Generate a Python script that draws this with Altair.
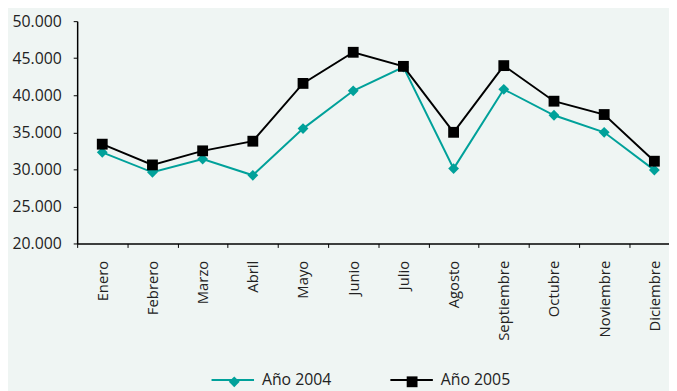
import altair as alt
import pandas as pd

meses = ["Enero", "Febrero", "Marzo", "Abril", "Mayo", "Junio", "Julio",
         "Agosto", "Septiembre", "Octubre", "Noviembre", "Diciembre"]
anio_2004 = [32300, 29600, 31400, 29200, 35500, 40600, 43800, 30100, 40800, 37300, 35000, 29900]
anio_2005 = [33400, 30600, 32500, 33800, 41600, 45800, 43900, 35000, 44000, 39200, 37400, 31100]
series = ["Año 2004", "Año 2005"]
y_ticks = [20000, 25000, 30000, 35000, 40000, 45000, 50000]

rows = []
for s, vals in zip(series, [anio_2004, anio_2005]):
    for m, v in zip(meses, vals):
        rows.append({"mes": m, "serie": s, "linea": s, "valor": v})
df = pd.DataFrame(rows)

TEAL = "#00A19A"
BLACK = "#000000"
FONT = "Open Sans"

x_enc = alt.X(
    "mes:N", sort=meses, bandPosition=0.5, title=None,
    scale=alt.Scale(type="band", range=[0, 609.6], paddingInner=0, paddingOuter=0),
    axis=alt.Axis(tickBand="extent", labelAngle=270, labelAlign="right",
                  labelBaseline="middle", labelPadding=13, tickSize=4,
                  domainColor="black", tickColor="black", labelColor="#222222",
                  labelFontSize=15, labelFont=FONT, domainWidth=1.5, grid=False),
)
y_enc = alt.Y(
    "valor:Q", title=None,
    scale=alt.Scale(domain=[20000, 50000], nice=False, zero=False),
    axis=alt.Axis(values=y_ticks, labelExpr="replace(format(datum.value, ','), ',', '.')",
                  tickSize=4, labelPadding=12, domainColor="black", tickColor="black",
                  labelColor="#222222", labelFontSize=16, labelFont=FONT,
                  domainWidth=1.5, grid=False),
)

LEG_X = 135
LEG_Y = 357

lines = alt.Chart(df).mark_line(strokeWidth=2).encode(
    x=x_enc, y=y_enc,
    color=alt.Color(
        "linea:N", scale=alt.Scale(domain=series, range=[TEAL, BLACK]),
        legend=alt.Legend(
            title=None, orient="none", legendX=LEG_X, legendY=LEG_Y - 16.5,
            direction="horizontal",
            symbolType="stroke", symbolSize=1849, symbolStrokeWidth=2,
            labelFontSize=16, labelFont=FONT, labelColor="#222222",
            labelOffset=7, columnPadding=55,
        ),
    ),
)
points = alt.Chart(df).mark_point(filled=True, opacity=1, size=120).encode(
    x=x_enc, y=y_enc,
    color=alt.Color(
        "serie:N", scale=alt.Scale(domain=series, range=[TEAL, BLACK]),
        legend=alt.Legend(
            title=None, orient="none", legendX=LEG_X + 16, legendY=LEG_Y,
            direction="horizontal",
            symbolType=alt.ExprRef(expr="datum.value === 'Año 2004' ? 'diamond' : 'square'"),
            symbolSize=120, symbolOpacity=1, symbolStrokeWidth=0,
            labelFontSize=16, labelFont=FONT, labelOpacity=0,
            labelOffset=38.5, columnPadding=55,
        ),
    ),
    shape=alt.Shape("serie:N", scale=alt.Scale(domain=series, range=["diamond", "square"]),
                    legend=None),
)

chart = alt.layer(lines, points).resolve_scale(
    color="independent"
).resolve_legend(color="independent").properties(
    width=599, height=225,
    autosize=alt.AutoSizeParams(type="none"),
    padding={"left": 70, "top": 11, "right": 0, "bottom": 147},
    background="#EFF5F3",
).configure_view(stroke=None)

chart.save("out.html", embed_options={"renderer": "svg", "actions": False})
